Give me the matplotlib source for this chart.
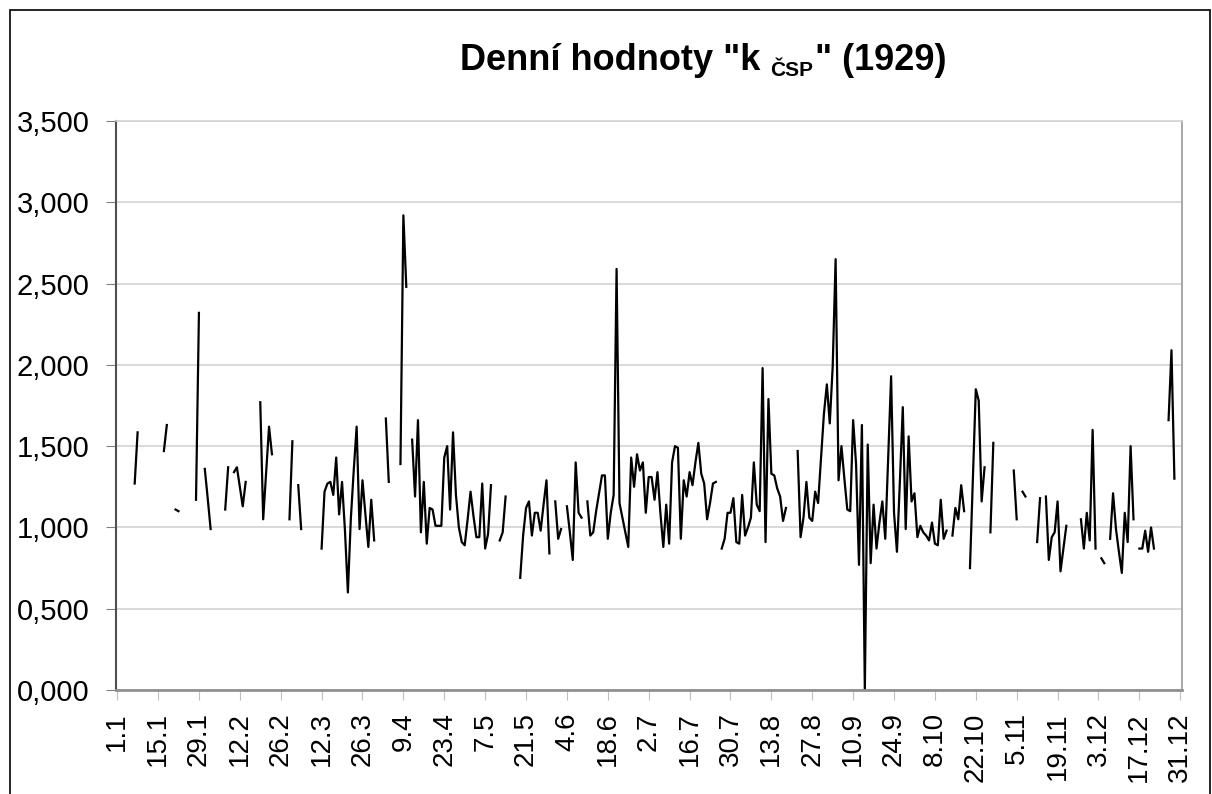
import numpy as np
import matplotlib.pyplot as plt
from matplotlib.patches import Rectangle
from matplotlib.ticker import FuncFormatter

plt.rcParams['font.family'] = ['Liberation Sans', 'DejaVu Sans']

nan = np.nan

# denni hodnoty k_CSP pro rok 1929, nan = chybejici den
leden = [nan] * 6 + [1.27, 1.585] + [nan] * 8 + [1.47, 1.63, nan, nan, 1.11, 1.10] \
    + [nan] * 5 + [1.17, 2.32, nan, 1.36]
unor = [1.18, 0.99] + [nan] * 4 + [1.11, 1.37, nan, 1.34, 1.37, 1.25, 1.13, 1.28] \
    + [nan] * 4 + [1.77, 1.05, 1.33, 1.62, 1.45] + [nan] * 5
brezen = [1.05, 1.53, nan, 1.26, 0.99] + [nan] * 6 \
    + [0.87, 1.22, 1.27, 1.28, 1.20, 1.43, 1.08, 1.28, 0.98, 0.60,
       1.05, 1.35, 1.62, 0.99, 1.29, 1.08, 0.88, 1.17, 0.92, nan]
duben = [nan, nan, 1.67, 1.28, nan, nan, nan, 1.39, 2.92, 2.48, nan,
         1.54, 1.19, 1.66, 0.97, 1.28, 0.90, 1.12, 1.11, 1.01, 1.01,
         1.01, 1.43, 1.50, 1.11, 1.585, 1.20, 1.00, 0.91, 0.89]
kveten = [1.05, 1.22, 1.07, 0.94, 0.94, 1.27, 0.87, 0.96, 1.26, nan, nan,
          0.92, 0.97, 1.19] + [nan] * 4 \
    + [0.69, 0.95, 1.12, 1.16, 0.95, 1.09, 1.09, 0.98, 1.14, 1.29, 0.84, nan, 1.16]
cerven = [0.93, 0.99, nan, 1.13, 0.97, 0.80, 1.40, 1.09, 1.06, nan,
          1.16, 0.95, 0.97, 1.10, 1.21, 1.32, 1.32, 0.93, 1.09, 1.20,
          2.59, 1.15, 1.06, 0.97, 0.88, 1.43, 1.25, 1.45, 1.35, 1.40]
cervenec = [1.09, 1.31, 1.31, 1.17, 1.34, 1.09, 0.88, 1.14, 0.90, 1.40,
            1.50, 1.49, 0.93, 1.29, 1.19, 1.34, 1.26, 1.40, 1.52, 1.33,
            1.27, 1.05, 1.15, 1.27, 1.28, nan, 0.87, 0.93, 1.09, 1.09, 1.18]
srpen = [0.91, 0.90, 1.20, 0.95, 1.00, 1.06, 1.40, 1.14, 1.10, 1.98,
         0.91, 1.79, 1.33, 1.32, 1.24, 1.19, 1.04, 1.12, nan, nan, nan,
         1.47, 0.94, 1.06, 1.28, 1.06, 1.04, 1.22, 1.15, 1.43, 1.70]
zari = [1.88, 1.64, 1.99, 2.65, 1.29, 1.50, 1.30, 1.11, 1.10, 1.66,
        1.39, 0.77, 1.63, 0.00, 1.51, 0.78, 1.14, 0.87, 1.03, 1.16,
        0.93, 1.43, 1.93, 1.09, 0.85, 1.28, 1.74, 0.99, 1.56, 1.16]
rijen = [1.21, 0.94, 1.01, 0.97, 0.95, 0.92, 1.03, 0.90, 0.89, 1.17,
         0.93, 0.98, nan, 0.95, 1.12, 1.05, 1.26, 1.10, nan, 0.75, 1.30,
         1.85, 1.78, 1.16, 1.37, nan, 0.97, 1.52, nan, nan, nan]
listopad = [nan, nan, nan, 1.35, 1.05, nan, 1.22, 1.19, nan, nan, nan,
            0.91, 1.18, nan, 1.19, 0.80, 0.94, 0.97, 1.16, 0.73, 0.87, 1.01,
            nan, nan, nan, nan, 1.05, 0.87, 1.09, 0.92]
prosinec = [1.60, 0.87, nan, 0.81, 0.78, nan, 0.93, 1.21, 0.99, 0.85,
            0.72, 1.09, 0.91, 1.50, 1.05, nan, 0.87, 0.87, 0.98, 0.85,
            1.00, 0.87, nan, nan, nan, nan, 1.66, 2.09, 1.30, nan, nan]

k_csp = np.array(leden + unor + brezen + duben + kveten + cerven + cervenec
                 + srpen + zari + rijen + listopad + prosinec, dtype=float)
dny = np.arange(len(k_csp))

popisky = ["1.1", "15.1", "29.1", "12.2", "26.2", "12.3", "26.3", "9.4", "23.4",
           "7.5", "21.5", "4.6", "18.6", "2.7", "16.7", "30.7", "13.8", "27.8",
           "10.9", "24.9", "8.10", "22.10", "5.11", "19.11", "3.12", "17.12", "31.12"]
pozice = np.arange(0, 365, 14)

W, H = 1212, 794
fig = plt.figure(figsize=(W / 100, H / 100), dpi=100)
ax = fig.add_axes([115.7 / W, 1 - 690 / H, (1181.7 - 115.7) / W, (690 - 121) / H])

ax.plot(dny, k_csp, color='black', lw=1.6)

ax.set_xlim(-0.5, 364.5)
ax.set_ylim(0, 3.5)
ax.set_yticks(np.arange(0, 3.51, 0.5))
ax.yaxis.set_major_formatter(FuncFormatter(lambda v, p: f"{v:.3f}".replace('.', ',')))
ax.set_xticks(pozice)
ax.set_xticklabels(popisky, rotation=90)
ax.yaxis.grid(True, color='#d3d3d3', lw=1.2)
ax.set_axisbelow(True)

ax.tick_params(axis='y', length=7, color='#808080', labelsize=21, pad=12)
ax.tick_params(axis='x', length=7, color='#c0c0c0', labelsize=20, pad=9)
ax.spines['top'].set_color('#d3d3d3')
ax.spines['top'].set_linewidth(1.2)
ax.spines['right'].set_color('#9a9a9a')
ax.spines['right'].set_linewidth(1.2)
ax.spines['left'].set_color('#505050')
ax.spines['left'].set_linewidth(1.5)
ax.spines['bottom'].set_color('#909090')
ax.spines['bottom'].set_linewidth(2)

# ramecek kolem celeho grafu
fig.patches.append(Rectangle((10 / W, -0.02), 1200 / W, 1 - 10 / H + 0.02,
                             transform=fig.transFigure, fill=False,
                             edgecolor='black', lw=1.2))

# titulek s dolnim indexem
fig.canvas.draw()
r = fig.canvas.get_renderer()
yb = 1 - 70 / H
t1 = fig.text(460 / W, yb, 'Denní hodnoty "k', fontsize=26, fontweight='bold',
              va='baseline', ha='left')
bb = t1.get_window_extent(r)
t2 = fig.text((bb.x1 + 10) / W, yb - 6 / H, 'ČSP', fontsize=15, fontweight='bold',
              va='baseline', ha='left')
bb2 = t2.get_window_extent(r)
fig.text((bb2.x1 + 2) / W, yb, '" (1929)', fontsize=26, fontweight='bold',
         va='baseline', ha='left')

fig.savefig('out.png', dpi=100)
